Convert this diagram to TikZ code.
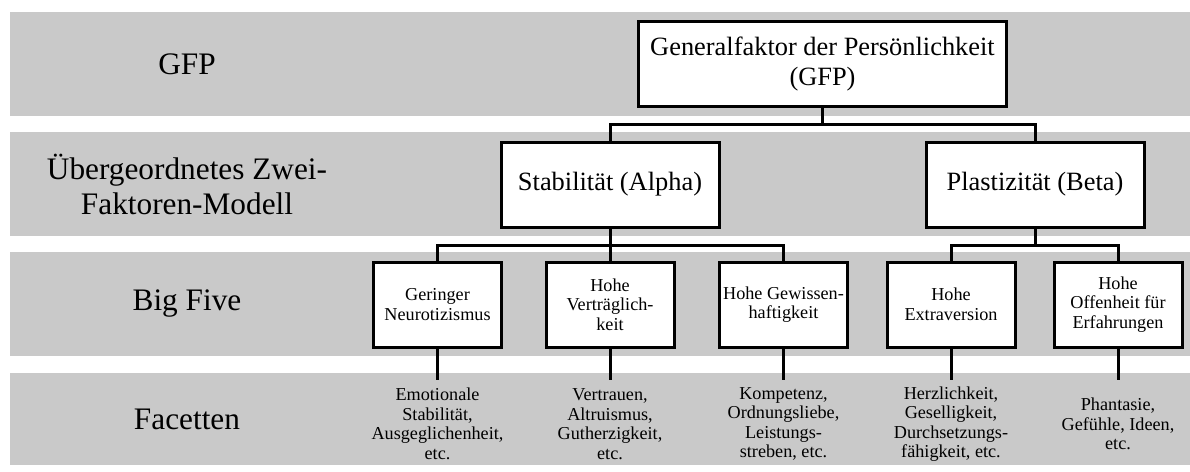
\documentclass[tikz,border=0pt]{standalone}
\usepackage{fontspec}
\setmainfont{Liberation Serif}
\usepackage{xcolor}
\definecolor{bandgray}{RGB}{201,201,201}

\tikzset{
	band/.style={fill=bandgray, draw=none},
	bandlabel/.style={align=center, font=\fontsize{31.3}{35}\selectfont},
	bigbox/.style={draw, line width=3pt, fill=white, minimum height=85pt, inner sep=2pt, align=center, font=\fontsize{26.4}{30.5}\selectfont},
	traitbox/.style={draw, line width=3pt, fill=white, minimum width=128pt, minimum height=85pt, inner sep=1pt, align=center, font=\fontsize{18.2}{19.5}\selectfont},
	facet/.style={minimum height=88pt, inner sep=0pt, align=center, font=\fontsize{18.2}{19.5}\selectfont},
	wire/.style={line width=3pt}
}

\begin{document}
\begin{tikzpicture}[x=1pt, y=-1pt]
					\useasboundingbox (0,0) rectangle (1190,471);
					% Bands and their labels:
					\fill[band] (10,12) rectangle (1190,116);
					\fill[band] (10,132) rectangle (1190,236);
					\fill[band] (10,252) rectangle (1190,356);
					\fill[band] (10,373) rectangle (1190,465);
					\node[bandlabel] (lgfp) at (187,64){GFP};
					\node[bandlabel] (lzwei) at (187,184){Übergeordnetes Zwei-\\Faktoren-Modell};
					\node[bandlabel] (lbig) at (187,304){Big Five};
					\node[bandlabel] (lfac) at (187,419){Facetten};
					% Boxes:
					\node[bigbox, minimum width=368pt] (gfp) at (822.5,64){Generalfaktor der Persönlichkeit\\(GFP)};
					\node[bigbox, minimum width=218pt] (alpha) at (610,184.5){Stabilität (Alpha)};
					\node[bigbox, minimum width=218pt] (beta) at (1035,184.5){Plastizität (Beta)};
					\node[traitbox] (neuro) at (437.5,304.5){Geringer\\Neurotizismus};
					\node[traitbox] (vertr) at (610,304.5){Hohe\\Verträglich-\\keit};
					\node[traitbox] (gewis) at (783.5,304.5){Hohe Gewissen-\\haftigkeit};
					\node[traitbox] (extra) at (951,304.5){Hohe\\Extraversion};
					\node[traitbox] (offen) at (1118,304.5){Hohe\\Offenheit für\\Erfahrungen};
					% Facets:
					\node[facet] (fneuro) at (437.5,424){Emotionale\\Stabilität,\\Ausgeglichenheit,\\etc.};
					\node[facet] (fvertr) at (610,424){Vertrauen,\\Altruismus,\\Gutherzigkeit,\\etc.};
					\node[facet] (fgewis) at (783.5,424){Kompetenz,\\Ordnungsliebe,\\Leistungs-\\streben, etc.};
					\node[facet] (fextra) at (951,424){Herzlichkeit,\\Geselligkeit,\\Durchsetzungs-\\fähigkeit, etc.};
					\node[facet] (foffen) at (1118,424){Phantasie,\\Gefühle, Ideen,\\etc.};
					% Wires:
					\draw[wire] (gfp.south) -- ++(0,16) -| (alpha.north);
					\draw[wire] (gfp.south) -- ++(0,16) -| (beta.north);
					\draw[wire] (alpha.south) -- ++(0,17) -| (neuro.north);
					\draw[wire] (alpha.south) -- ++(0,17) -| (vertr.north);
					\draw[wire] (alpha.south) -- ++(0,17) -| (gewis.north);
					\draw[wire] (beta.south) -- ++(0,17) -| (extra.north);
					\draw[wire] (beta.south) -- ++(0,17) -| (offen.north);
					\draw[wire] (neuro) -- (fneuro);
					\draw[wire] (vertr) -- (fvertr);
					\draw[wire] (gewis) -- (fgewis);
					\draw[wire] (extra) -- (fextra);
					\draw[wire] (offen) -- (foffen);
				\end{tikzpicture}
\end{document}
